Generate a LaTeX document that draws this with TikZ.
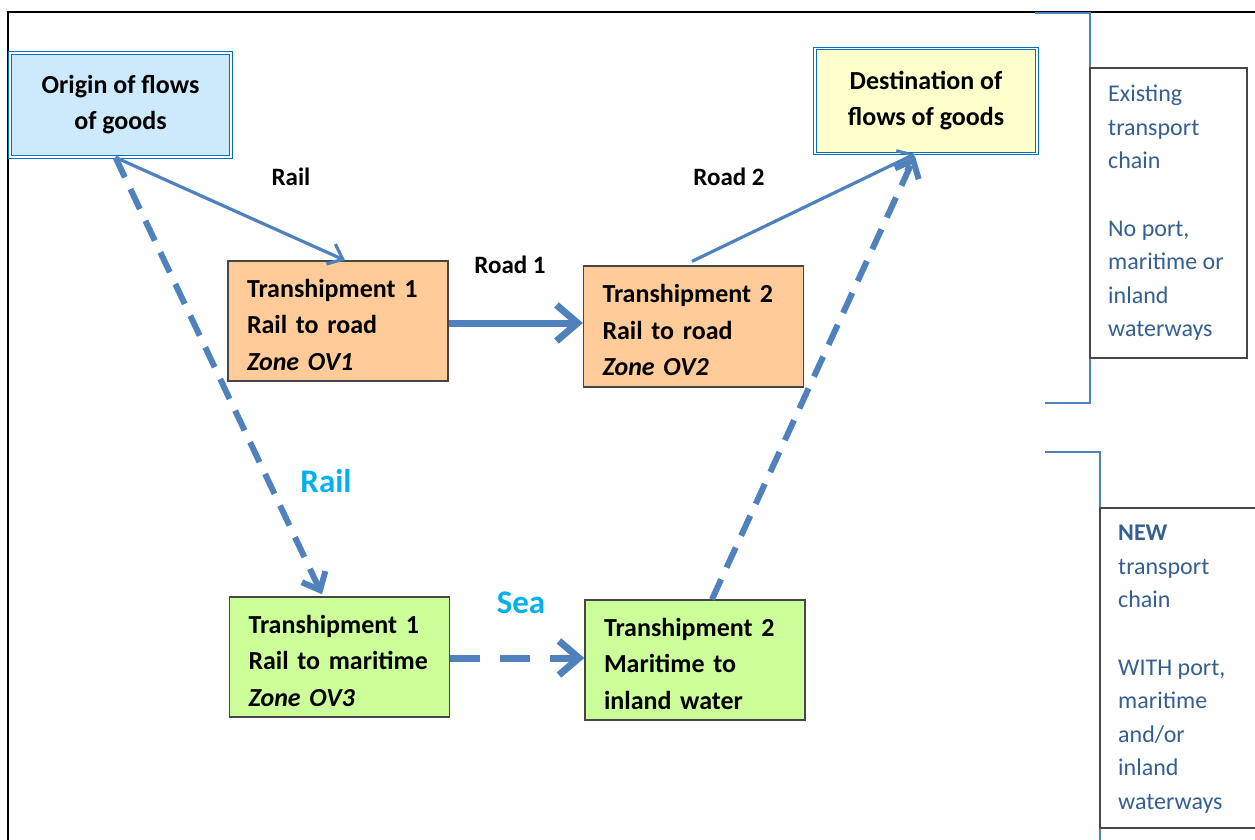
\documentclass[tikz,border=0pt]{standalone}
\usepackage{fontspec}
\setmainfont{Carlito}
\usetikzlibrary{arrows.meta,calc}
\definecolor{arrowblue}{RGB}{79,129,189}
\definecolor{cyanlbl}{RGB}{0,176,240}
\definecolor{origfill}{RGB}{204,234,252}
\definecolor{origdraw}{RGB}{0,112,192}
\definecolor{destfill}{RGB}{255,255,204}
\definecolor{orangefill}{RGB}{255,204,153}
\definecolor{greenfill}{RGB}{204,255,153}
\definecolor{boxgray}{RGB}{70,70,70}
\definecolor{sidetext}{RGB}{54,95,145}
\newcommand\firststrut{\rule{0pt}{26pt}}
\begin{document}
\begin{tikzpicture}[x=1pt,y=-1pt,
  endbox/.style={draw=origdraw, line width=0.9pt, double distance=1.6pt,
    minimum width=221pt, minimum height=104pt, inner sep=0pt, align=center,
    font=\fontsize{26}{36}\selectfont\bfseries},
  tbox/.style={draw=boxgray, line width=1.3pt, minimum height=120pt,
    inner xsep=19pt, inner ysep=0pt, text width=182pt, align=left,
    font=\fontsize{26}{36.5}\selectfont\bfseries},
  lbl/.style={font=\fontsize{25}{30}\selectfont\bfseries, inner sep=0pt},
  biglbl/.style={font=\fontsize{33}{36}\selectfont\bfseries, text=cyanlbl, inner sep=0pt},
  thinarrow/.style={draw=arrowblue, line width=3.2pt, -{Straight Barb[length=13pt,width=22pt]}},
  thickarrow/.style={draw=arrowblue, line width=7pt, -{Straight Barb[length=21pt,width=36pt]}},
  dasharrow/.style={draw=arrowblue, line width=6pt, dash pattern=on 22pt off 13pt, -{Straight Barb[length=15pt,width=26pt]}},
  seaarrow/.style={draw=arrowblue, line width=7pt, dash pattern=on 30pt off 20pt, -{Straight Barb[length=20pt,width=34pt]}},
  bracket/.style={draw=arrowblue, line width=2.5pt},
  sidebox/.style={draw=boxgray, line width=1.2pt},
  sidetxt/.style={anchor=north west, inner sep=0pt, align=left, text=sidetext,
    font=\fontsize{24}{33.6}\selectfont}
]
\useasboundingbox (0,0) rectangle (1255,840);
% outer frame
\draw[line width=2pt] (8,1000) -- (8,12) -- (1300,12);

% nodes
\node[endbox, fill=origfill] (origin) at (120.5,105) {Origin of flows\\of goods};
\node[endbox, fill=destfill, minimum width=222pt, minimum height=105pt] (dest) at (926,101) {Destination of\\flows of goods};
\node[tbox, fill=orangefill] (t1road) at (338,321) {\firststrut Transhipment 1\\Rail to road\\\textit{Zone OV1}};
\node[tbox, fill=orangefill, minimum height=121pt] (t2road) at (693.5,326.5) {\firststrut Transhipment 2\\Rail to road\\\textit{Zone OV2}};
\node[tbox, fill=greenfill] (t1mar) at (339.5,657) {\firststrut Transhipment 1\\Rail to maritime\\\textit{Zone OV3}};
\node[tbox, fill=greenfill] (t2mar) at (695,660) {\firststrut Transhipment 2\\Maritime to\\inland water};

% labels
\node[lbl] (lrail) at (291,177) {Rail};
\node[lbl] (lroad1) at (510,265) {Road 1};
\node[lbl] (lroad2) at (729,177) {Road 2};
\node[biglbl] (lrail2) at (326,481) {Rail};
\node[biglbl] (lsea) at (521,603) {Sea};

% connectors
\draw[thinarrow] ($(origin.south)+(-5,0)$) -- ($(t1road.north)+(7,0)$);
\draw[dasharrow] ($(origin.south)+(-5,0)$) -- ($(t1mar.north)+(-17.5,-2)$);
\draw[thickarrow] ($(t1road.east)+(0,2)$) -- ($(t2road.west)+(0,-3.5)$);
\draw[thinarrow] ($(t2road.north)+(-1.5,-4)$) -- ($(dest.south)+(-11,0)$);
\draw[dasharrow] ($(t2mar.north)+(17,0)$) -- ($(dest.south)+(-11,2)$);
\draw[seaarrow] ($(t1mar.east)+(0,1)$) -- ($(t2mar.west)+(0,-2)$);

% right side brackets and boxes
\coordinate (b1a) at (1035,13);
\coordinate (b1b) at (1045,403);
\draw[bracket] (b1a) -- (1090,13) -- (1090,403) -- (b1b);
\coordinate (b2a) at (1045,452);
\draw[bracket] (b2a) -- (1100,452) -- (1100,900);
\draw[sidebox, fill=white] (1090,68) rectangle (1247,358);
\draw[sidebox, fill=white] (1300,508) -- (1100,508) -- (1100,828) -- (1300,828);
\node[sidetxt] (side1) at (1108,81.5) {\rule{0pt}{20pt}Existing\\transport\\chain\\[33.6pt]No port,\\maritime or\\inland\\waterways};
\node[sidetxt] (side2) at (1118,520.5) {\rule{0pt}{20pt}\textbf{NEW}\\transport\\chain\\[33.6pt]WITH port,\\maritime\\and/or\\inland\\waterways};
\end{tikzpicture}
\end{document}
